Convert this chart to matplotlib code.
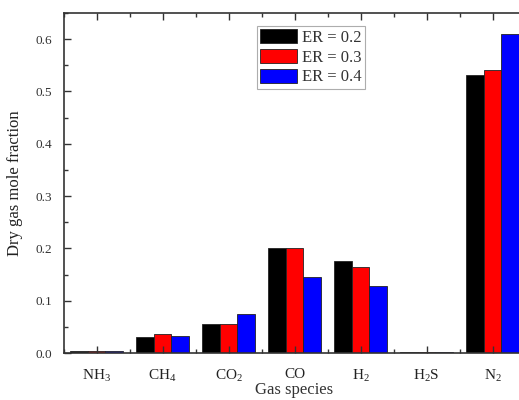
import matplotlib
matplotlib.use("Agg")
import matplotlib.pyplot as plt
import numpy as np
from matplotlib.ticker import MultipleLocator

plt.rcParams['font.family'] = ['Liberation Serif', 'DejaVu Serif']
plt.rcParams['mathtext.fontset'] = 'custom'
plt.rcParams['mathtext.rm'] = 'Liberation Serif'
plt.rcParams['mathtext.it'] = 'Liberation Serif:italic'

species = [r'NH$_3$', r'CH$_4$', r'CO$_2$', 'CO', r'H$_2$', r'H$_2$S', r'N$_2$']
er_labels = ['ER = 0.2', 'ER = 0.3', 'ER = 0.4']
er_02 = [0.003, 0.031, 0.055, 0.200, 0.176, 0.001, 0.532]
er_03 = [0.004, 0.036, 0.055, 0.201, 0.164, 0.001, 0.541]
er_04 = [0.004, 0.033, 0.075, 0.146, 0.128, 0.001, 0.610]
colors = ['#000000', '#ff0000', '#0000ff']

fig = plt.figure(figsize=(5.19, 4.0), dpi=100)
ax = fig.add_axes([63.5 / 519, 47 / 400, 462 / 519, 340 / 400])

x = np.arange(len(species))
w = 0.8 / 3
for i, (vals, lab, c) in enumerate(zip([er_02, er_03, er_04], er_labels, colors)):
    ax.bar(x + (i - 1) * w, vals, width=w, color=c, edgecolor='#222222',
           linewidth=0.6, label=lab)

ax.set_xlim(-0.5, len(species) - 0.5)
ax.set_ylim(0, 0.65)
ax.set_xticks(x)
ax.set_xticklabels(species, fontsize=11, color='#222222')
ax.xaxis.set_minor_locator(MultipleLocator(0.5))
ax.yaxis.set_minor_locator(MultipleLocator(0.05))
ax.set_yticks([0.0, 0.1, 0.2, 0.3, 0.4, 0.5, 0.6])
ax.set_yticklabels(['0.0', '0.1', '0.2', '0.3', '0.4', '0.5', '0.6'],
                   fontsize=9.5, color='#333333')

ax.tick_params(axis='both', which='both', direction='in', top=True,
               right=False, color='#333333', width=1.0)
ax.tick_params(axis='both', which='major', length=5)
ax.tick_params(axis='both', which='minor', length=3)
ax.tick_params(axis='x', which='major', pad=11)
ax.tick_params(axis='y', which='major', pad=8)

for side in ['left', 'top', 'bottom', 'right']:
    ax.spines[side].set_color('#333333')
    ax.spines[side].set_linewidth(1.2)

ax.set_xlabel('Gas species', fontsize=12, color='#333333', labelpad=-2)
ax.set_ylabel('Dry gas mole fraction', fontsize=12, color='#222222', labelpad=9)

leg = ax.legend(loc='upper left', bbox_to_anchor=(257 / 519, 1 - 26 / 400),
                bbox_transform=fig.transFigure, fontsize=12, frameon=True,
                fancybox=False, edgecolor='#999999', handlelength=2.2,
                handleheight=0.9, handletextpad=0.3, borderpad=0.2,
                labelspacing=0.18, borderaxespad=0)
leg.get_frame().set_linewidth(0.8)
for t in leg.get_texts():
    t.set_color('#333333')

fig.savefig('out.png', dpi=100)
